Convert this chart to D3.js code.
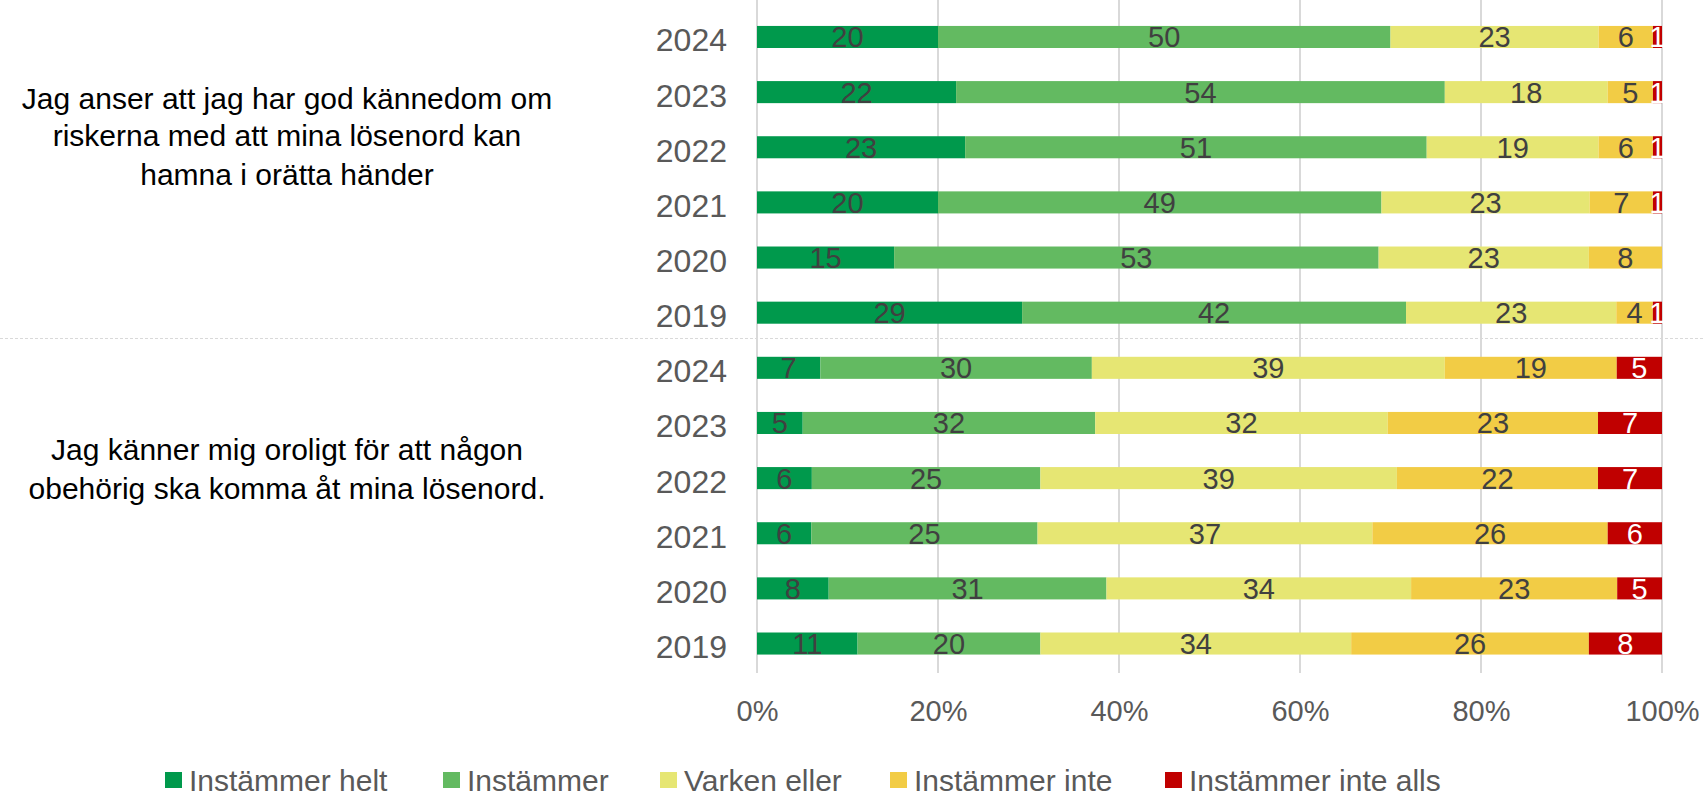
<!DOCTYPE html>
<html>
<head>
<meta charset="utf-8">
<script src="https://cdn.jsdelivr.net/npm/d3@7"></script>
<style>
  html, body { margin: 0; padding: 0; background: #fff; }
  svg { display: block; font-family: "Liberation Sans", Arial, sans-serif; }
</style>
</head>
<body>
<svg id="chart" width="1703" height="796"></svg>
<script>
// ---- Data ----
const series = ["Instämmer helt", "Instämmer", "Varken eller", "Instämmer inte", "Instämmer inte alls"];
const colors = ["#00994C", "#63BA61", "#E6E673", "#F2CC45", "#C00000"];
const labelColors = ["#404040", "#404040", "#404040", "#404040", "#FFFFFF"];
const years = ["2024", "2023", "2022", "2021", "2020", "2019"];
const questions = [
  ["Jag anser att jag har god kännedom om", "riskerna med att mina lösenord kan", "hamna i orätta händer"],
  ["Jag känner mig oroligt för att någon", "obehörig ska komma åt mina lösenord."]
];
// values per year (2024..2019), per series
const q1Values = [
  [20, 50, 23, 6, 1],
  [22, 54, 18, 5, 1],
  [23, 51, 19, 6, 1],
  [20, 49, 23, 7, 1],
  [15, 53, 23, 8, 0],
  [29, 42, 23, 4, 1]
];
const q2Values = [
  [7, 30, 39, 19, 5],
  [5, 32, 32, 23, 7],
  [6, 25, 39, 22, 7],
  [6, 25, 37, 26, 6],
  [8, 31, 34, 23, 5],
  [11, 20, 34, 26, 8]
];
const xTicks = [0, 0.2, 0.4, 0.6, 0.8, 1.0];

// ---- Build rows ----
const rows = [];
[q1Values, q2Values].forEach((vals, qi) => {
  vals.forEach((v, yi) => {
    rows.push({ id: qi + "-" + years[yi], q: qi, year: years[yi], values: v });
  });
});

const svg = d3.select("#chart");
const x = d3.scaleLinear().domain([0, 1]).range([757, 1662]);
const y = d3.scaleBand().domain(rows.map(r => r.id)).range([9.4, 671.1])
  .paddingInner(0.6).paddingOuter(0.3);

// gridlines
svg.append("g").selectAll("line").data(xTicks).join("line")
  .attr("x1", d => x(d)).attr("x2", d => x(d))
  .attr("y1", 0).attr("y2", 673)
  .attr("stroke", "#D9D9D9").attr("stroke-width", 2);

// separator
svg.append("line")
  .attr("x1", 0).attr("x2", 1703)
  .attr("y1", 338.5).attr("y2", 338.5)
  .attr("stroke", "#D9D9D9").attr("stroke-width", 1)
  .attr("stroke-dasharray", "3,2");

// stacked (normalized) segments
const segs = [];
rows.forEach(r => {
  const total = d3.sum(r.values);
  let acc = 0;
  r.values.forEach((v, si) => {
    segs.push({ row: r, si, v, x0: acc / total, x1: (acc + v) / total });
    acc += v;
  });
});

const barG = svg.append("g");
barG.selectAll("rect").data(segs.filter(d => d.v > 0)).join("rect")
  .attr("x", d => x(d.x0))
  .attr("width", d => x(d.x1) - x(d.x0))
  .attr("y", d => y(d.row.id))
  .attr("height", y.bandwidth())
  .attr("fill", d => colors[d.si]);

barG.selectAll("text").data(segs.filter(d => d.v > 0)).join("text")
  .attr("x", d => (x(d.x0) + x(d.x1)) / 2)
  .attr("y", d => y(d.row.id) + y.bandwidth() / 2)
  .attr("dy", "0.36em")
  .attr("text-anchor", "middle")
  .attr("font-size", 29)
  .attr("fill", d => labelColors[d.si])
  .text(d => d.v);

// y axis (years)
const yAxis = d3.axisLeft(y).tickSize(0).tickPadding(30)
  .tickFormat(id => id.split("-")[1]);
const yg = svg.append("g").attr("transform", `translate(${x(0)},0)`).call(yAxis);
yg.select(".domain").remove();
yg.selectAll("text").attr("font-size", 32).attr("fill", "#595959")
  .attr("font-family", "Liberation Sans, Arial, sans-serif").attr("dy", "0.45em");

// x axis
const xAxis = d3.axisBottom(x).tickValues(xTicks).tickSize(0).tickPadding(0)
  .tickFormat(d3.format(".0%"));
const xg = svg.append("g").attr("transform", `translate(0,${711})`).call(xAxis);
xg.select(".domain").remove();
xg.selectAll("text").attr("font-size", 29).attr("fill", "#595959")
  .attr("font-family", "Liberation Sans, Arial, sans-serif")
  .attr("y", 0).attr("dy", "0.36em");

// question labels
const qCenters = [[98, 135, 174], [449, 488]];
questions.forEach((lines, qi) => {
  svg.append("g").selectAll("text").data(lines).join("text")
    .attr("x", 287)
    .attr("y", (d, i) => qCenters[qi][i])
    .attr("dy", "0.36em")
    .attr("text-anchor", "middle")
    .attr("font-size", 30)
    .attr("fill", "#000")
    .text(d => d);
});

// legend
const legendX = [165, 443, 660, 890, 1165];
const lg = svg.append("g");
series.forEach((s, i) => {
  lg.append("rect").attr("x", legendX[i]).attr("y", 772).attr("width", 17).attr("height", 16)
    .attr("fill", colors[i]);
  lg.append("text").attr("x", legendX[i] + 24).attr("y", 780).attr("dy", "0.36em")
    .attr("font-size", 30).attr("fill", "#595959").text(s);
});
</script>
</body>
</html>
